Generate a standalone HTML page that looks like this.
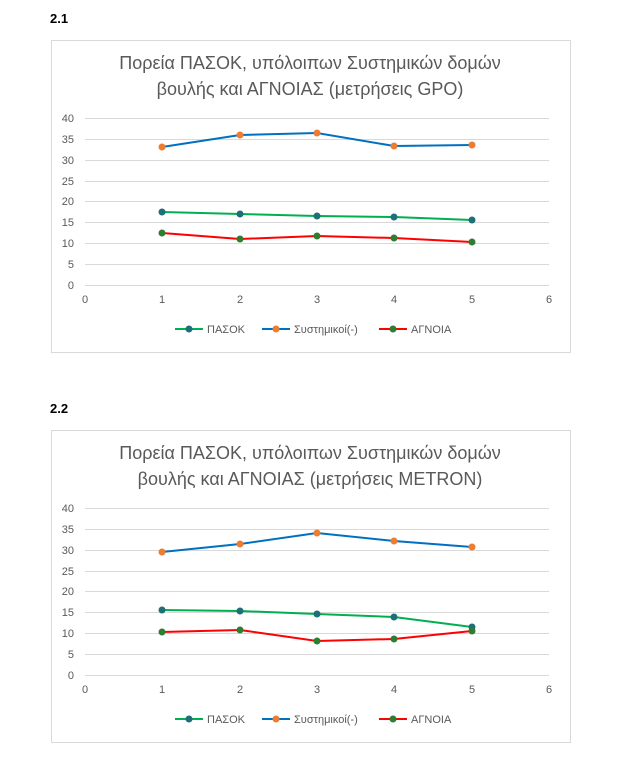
<!DOCTYPE html>
<html><head><meta charset="utf-8"><style>body{margin:0;background:#fff}svg{display:block}</style></head><body>
<svg width="617" height="760" xmlns="http://www.w3.org/2000/svg" font-family="Liberation Sans, sans-serif">
<text x="50" y="23" font-size="13" font-weight="bold" fill="#000">2.1</text>
<text x="50" y="413" font-size="13" font-weight="bold" fill="#000">2.2</text>
<g id="c1">
<rect x="51.5" y="40.5" width="519" height="312" fill="#fff" stroke="#d9d9d9"/>
<text x="310" y="69" font-size="18" fill="#595959" text-anchor="middle">Πορεία ΠΑΣΟΚ, υπόλοιπων Συστημικών δομών</text>
<text x="310" y="95" font-size="18" fill="#595959" text-anchor="middle">βουλής και ΑΓΝΟΙΑΣ (μετρήσεις GPO)</text>
<g stroke="#d9d9d9" stroke-width="1">
<line x1="85" x2="549" y1="118.5" y2="118.5"/><line x1="85" x2="549" y1="139.5" y2="139.5"/><line x1="85" x2="549" y1="160.5" y2="160.5"/><line x1="85" x2="549" y1="181.5" y2="181.5"/><line x1="85" x2="549" y1="201.5" y2="201.5"/><line x1="85" x2="549" y1="222.5" y2="222.5"/><line x1="85" x2="549" y1="243.5" y2="243.5"/><line x1="85" x2="549" y1="264.5" y2="264.5"/><line x1="85" x2="549" y1="285.5" y2="285.5"/>
</g>
<g font-size="11" fill="#595959" text-anchor="end">
<text x="74" y="122">40</text><text x="74" y="143">35</text><text x="74" y="164">30</text><text x="74" y="185">25</text><text x="74" y="205">20</text><text x="74" y="226">15</text><text x="74" y="247">10</text><text x="74" y="268">5</text><text x="74" y="289">0</text>
</g>
<g font-size="11" fill="#595959" text-anchor="middle">
<text x="85" y="303">0</text><text x="162" y="303">1</text><text x="240" y="303">2</text><text x="317" y="303">3</text><text x="394" y="303">4</text><text x="472" y="303">5</text><text x="549" y="303">6</text>
</g>
<polyline points="162,147 240,135 317,133 394,146 472,145" fill="none" stroke="#0070c0" stroke-width="2"/>
<polyline points="162,212 240,214 317,216 394,217 472,220" fill="none" stroke="#00b050" stroke-width="2"/>
<polyline points="162,233 240,239 317,236 394,238 472,242" fill="none" stroke="#ff0000" stroke-width="2"/>
<g fill="#ed7d31"><circle cx="162" cy="147" r="3.5"/><circle cx="240" cy="135" r="3.5"/><circle cx="317" cy="133" r="3.5"/><circle cx="394" cy="146" r="3.5"/><circle cx="472" cy="145" r="3.5"/></g>
<g fill="#1f6f78"><circle cx="162" cy="212" r="3.5"/><circle cx="240" cy="214" r="3.5"/><circle cx="317" cy="216" r="3.5"/><circle cx="394" cy="217" r="3.5"/><circle cx="472" cy="220" r="3.5"/></g>
<g fill="#2e7d32"><circle cx="162" cy="233" r="3.5"/><circle cx="240" cy="239" r="3.5"/><circle cx="317" cy="236" r="3.5"/><circle cx="394" cy="238" r="3.5"/><circle cx="472" cy="242" r="3.5"/></g>
<g font-size="11" fill="#595959">
<line x1="175" x2="203" y1="329" y2="329" stroke="#00b050" stroke-width="2"/><circle cx="189" cy="329" r="3.5" fill="#1f6f78"/><text x="207" y="333">ΠΑΣΟΚ</text>
<line x1="262" x2="290" y1="329" y2="329" stroke="#0070c0" stroke-width="2"/><circle cx="276" cy="329" r="3.5" fill="#ed7d31"/><text x="294" y="333">Συστημικοί(-)</text>
<line x1="379" x2="407" y1="329" y2="329" stroke="#ff0000" stroke-width="2"/><circle cx="393" cy="329" r="3.5" fill="#2e7d32"/><text x="411" y="333">ΑΓΝΟΙΑ</text>
</g>
</g>
<g id="c2" transform="translate(0,390)">
<rect x="51.5" y="40.5" width="519" height="312" fill="#fff" stroke="#d9d9d9"/>
<text x="310" y="69" font-size="18" fill="#595959" text-anchor="middle">Πορεία ΠΑΣΟΚ, υπόλοιπων Συστημικών δομών</text>
<text x="310" y="95" font-size="18" fill="#595959" text-anchor="middle">βουλής και ΑΓΝΟΙΑΣ (μετρήσεις METRON)</text>
<g stroke="#d9d9d9" stroke-width="1">
<line x1="85" x2="549" y1="118.5" y2="118.5"/><line x1="85" x2="549" y1="139.5" y2="139.5"/><line x1="85" x2="549" y1="160.5" y2="160.5"/><line x1="85" x2="549" y1="181.5" y2="181.5"/><line x1="85" x2="549" y1="201.5" y2="201.5"/><line x1="85" x2="549" y1="222.5" y2="222.5"/><line x1="85" x2="549" y1="243.5" y2="243.5"/><line x1="85" x2="549" y1="264.5" y2="264.5"/><line x1="85" x2="549" y1="285.5" y2="285.5"/>
</g>
<g font-size="11" fill="#595959" text-anchor="end">
<text x="74" y="122">40</text><text x="74" y="143">35</text><text x="74" y="164">30</text><text x="74" y="185">25</text><text x="74" y="205">20</text><text x="74" y="226">15</text><text x="74" y="247">10</text><text x="74" y="268">5</text><text x="74" y="289">0</text>
</g>
<g font-size="11" fill="#595959" text-anchor="middle">
<text x="85" y="303">0</text><text x="162" y="303">1</text><text x="240" y="303">2</text><text x="317" y="303">3</text><text x="394" y="303">4</text><text x="472" y="303">5</text><text x="549" y="303">6</text>
</g>
<polyline points="162,162 240,154 317,143 394,151 472,157" fill="none" stroke="#0070c0" stroke-width="2"/>
<polyline points="162,220 240,221 317,224 394,227 472,237" fill="none" stroke="#00b050" stroke-width="2"/>
<polyline points="162,242 240,240 317,251 394,249 472,241" fill="none" stroke="#ff0000" stroke-width="2"/>
<g fill="#ed7d31"><circle cx="162" cy="162" r="3.5"/><circle cx="240" cy="154" r="3.5"/><circle cx="317" cy="143" r="3.5"/><circle cx="394" cy="151" r="3.5"/><circle cx="472" cy="157" r="3.5"/></g>
<g fill="#1f6f78"><circle cx="162" cy="220" r="3.5"/><circle cx="240" cy="221" r="3.5"/><circle cx="317" cy="224" r="3.5"/><circle cx="394" cy="227" r="3.5"/><circle cx="472" cy="237" r="3.5"/></g>
<g fill="#2e7d32"><circle cx="162" cy="242" r="3.5"/><circle cx="240" cy="240" r="3.5"/><circle cx="317" cy="251" r="3.5"/><circle cx="394" cy="249" r="3.5"/><circle cx="472" cy="241" r="3.5"/></g>
<g font-size="11" fill="#595959">
<line x1="175" x2="203" y1="329" y2="329" stroke="#00b050" stroke-width="2"/><circle cx="189" cy="329" r="3.5" fill="#1f6f78"/><text x="207" y="333">ΠΑΣΟΚ</text>
<line x1="262" x2="290" y1="329" y2="329" stroke="#0070c0" stroke-width="2"/><circle cx="276" cy="329" r="3.5" fill="#ed7d31"/><text x="294" y="333">Συστημικοί(-)</text>
<line x1="379" x2="407" y1="329" y2="329" stroke="#ff0000" stroke-width="2"/><circle cx="393" cy="329" r="3.5" fill="#2e7d32"/><text x="411" y="333">ΑΓΝΟΙΑ</text>
</g>
</g>
</svg>
</body></html>
